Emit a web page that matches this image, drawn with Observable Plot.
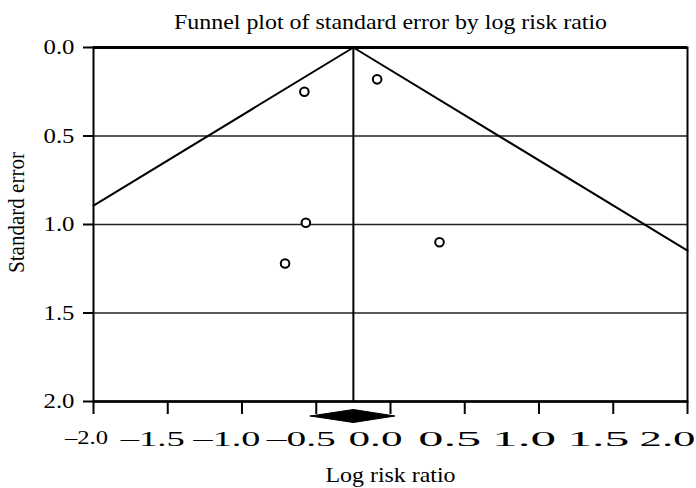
<!DOCTYPE html>
<html>
<head>
<meta charset="utf-8">
<script src="https://cdn.jsdelivr.net/npm/d3@7"></script>
<script src="https://cdn.jsdelivr.net/npm/@observablehq/plot@0.6"></script>
<style>
  html, body { margin: 0; padding: 0; background: #fff; }
  svg { display: block; }
</style>
</head>
<body>
<div id="chart"></div>
<script>
// ---- data ----
const studyLogRR = [-0.58, -0.09, -0.57, -0.71, 0.33];
const studySE    = [0.25, 0.18, 0.99, 1.22, 1.10];
const pooledLogRR = -0.25;
const pooledCI = [-0.54, 0.03];
const xTicks = [-2, -1.5, -1, -0.5, 0, 0.5, 1, 1.5, 2];
const xTickLabels = ["–2.0", "–1.5", "–1.0", "–0.5", "0.0", "0.5", "1.0", "1.5", "2.0"];
const yTicks = [0, 0.5, 1, 1.5, 2];
const yTickLabels = ["0.0", "0.5", "1.0", "1.5", "2.0"];
const gridSE = [0.5, 1.0, 1.5];
const zCrit = 1.96;
const titleText = "Funnel plot of standard error by log risk ratio";
const xLabelText = "Log risk ratio";
const yLabelText = "Standard error";

// ---- layout / style ----
const W = 696, H = 488;
const M = {top: 47, right: 9, bottom: 87, left: 93};
const xDomain = [-2, 2], yDomain = [0, 2];
const FONT = "'Liberation Serif', 'Times New Roman', serif";
const xLabelWidths = [43, 64, 67, 69, 54, 63, 64, 62, 56];
const xLabelShift = [0, 0, 0, 0, 0, 0, 0, 0, -5];

const studies = studyLogRR.map((x, i) => ({x, se: studySE[i]}));

// funnel (pseudo 95% limits) clipped to the x domain
const seLeft = Math.min(yDomain[1], (pooledLogRR - xDomain[0]) / zCrit);
const seRight = Math.min(yDomain[1], (xDomain[1] - pooledLogRR) / zCrit);
const funnelLeft = [{x: pooledLogRR, se: 0}, {x: pooledLogRR - zCrit * seLeft, se: seLeft}];
const funnelRight = [{x: pooledLogRR, se: 0}, {x: pooledLogRR + zCrit * seRight, se: seRight}];

// summary diamond below the axis
const sePerPx = (yDomain[1] - yDomain[0]) / (H - M.top - M.bottom);
const dMid = yDomain[1] + 14.5 * sePerPx, dHalf = 6.5 * sePerPx;
const diamond = [
  {x: pooledCI[0], se: dMid},
  {x: pooledLogRR, se: dMid - dHalf},
  {x: pooledCI[1], se: dMid},
  {x: pooledLogRR, se: dMid + dHalf},
  {x: pooledCI[0], se: dMid}
];

const plot = Plot.plot({
  width: W, height: H,
  marginTop: M.top, marginRight: M.right, marginBottom: M.bottom, marginLeft: M.left,
  style: {fontFamily: FONT, fontSize: "21px", color: "#000", background: "#fff", overflow: "visible"},
  x: {domain: xDomain, ticks: xTicks, tickSize: 13, tickFormat: () => "", label: null},
  y: {domain: yDomain, reverse: true, ticks: yTicks, tickSize: 10, tickFormat: () => "", label: null},
  marks: [
    Plot.ruleY(gridSE, {stroke: "#222", strokeWidth: 1.3}),
    Plot.frame({stroke: "#000", strokeWidth: 2}),
    Plot.ruleY([0], {stroke: "#000", strokeWidth: 3}),
    Plot.ruleY([2], {stroke: "#000", strokeWidth: 2.5}),
    Plot.line(funnelLeft, {x: "x", y: "se", stroke: "#000", strokeWidth: 2}),
    Plot.line(funnelRight, {x: "x", y: "se", stroke: "#000", strokeWidth: 2}),
    Plot.ruleX([pooledLogRR], {y1: yDomain[0], y2: yDomain[1], stroke: "#000", strokeWidth: 2}),
    Plot.dot(studies, {x: "x", y: "se", r: 4.3, stroke: "#000", strokeWidth: 2, fill: "#fff"}),
    Plot.line(diamond, {x: "x", y: "se", fill: "#000", stroke: "#000", strokeWidth: 1}),
    Plot.text([titleText], {text: d => d, frameAnchor: "top", textAnchor: "middle", lineAnchor: "middle", dy: -25, fontSize: 21}),
    Plot.text([xLabelText], {text: d => d, frameAnchor: "bottom", textAnchor: "middle", lineAnchor: "middle", dy: 74, fontSize: 21}),
    Plot.text([yLabelText], {text: d => d, frameAnchor: "left", textAnchor: "middle", lineAnchor: "middle", rotate: -90, dx: -77, dy: -12, fontSize: 24}),
    Plot.text(yTicks, {x: xDomain[0], y: d => d, text: (d, i) => yTickLabels[i], textAnchor: "end", dx: -19, fontSize: 21}),
    Plot.text(xTicks, {x: d => d, y: yDomain[1], text: (d, i) => xTickLabels[i], dx: -15, dy: 37, fontSize: 22, filter: d => d !== xTicks[0]}),
    Plot.text(xTicks, {x: d => d, y: yDomain[1], text: (d, i) => xTickLabels[i], dx: -7, dy: 36, fontSize: 19, filter: d => d === xTicks[0]})
  ]
});

document.getElementById("chart").appendChild(plot);

// horizontal stretch of the original typography (matched by content)
function fit(el, len, shift) {
  el.setAttribute("textLength", len);
  el.setAttribute("lengthAdjust", "spacingAndGlyphs");
  if (shift) el.setAttribute("dx", shift);
}
plot.querySelectorAll("text").forEach(el => {
  const t = el.textContent;
  if (!t) return;
  const g = el.closest("g");
  const anchorEnd = g && g.getAttribute("text-anchor") === "end";
  if (t === titleText) fit(el, 433);
  else if (t === xLabelText) fit(el, 130);
  else if (t === yLabelText) fit(el, 121);
  else if (anchorEnd && yTickLabels.includes(t)) fit(el, 31);
  else if (xTickLabels.includes(t)) {
    const k = xTickLabels.indexOf(t);
    fit(el, xLabelWidths[k], xLabelShift[k]);
  }
});
plot.querySelectorAll('g[aria-label^="x-axis tick"], g[aria-label^="y-axis tick"]').forEach(g => {
  g.setAttribute("stroke-width", 2);
  g.setAttribute("stroke", "#000");
});
</script>
</body>
</html>
